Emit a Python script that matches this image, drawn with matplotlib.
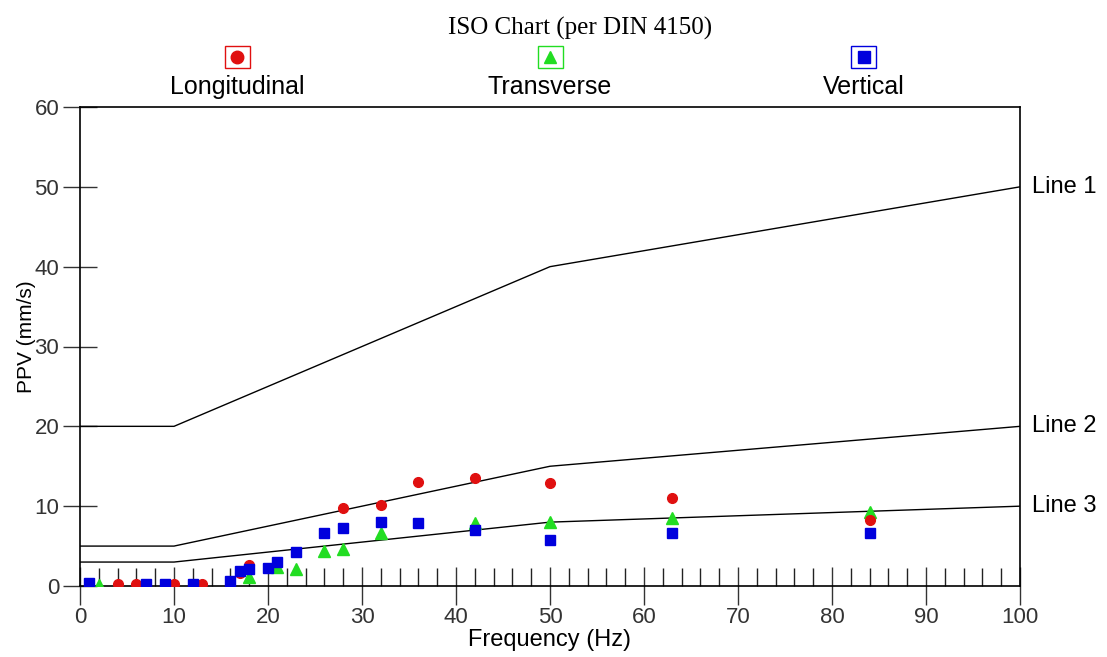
import matplotlib
matplotlib.use("Agg")
from matplotlib import pyplot as plt
from matplotlib.lines import Line2D
from matplotlib.patches import Rectangle
from matplotlib.ticker import MultipleLocator

plt.rcParams['font.family'] = ['Liberation Sans', 'DejaVu Sans']

# DIN 4150 guide lines (frequency Hz, PPV mm/s)
line_freq = [0, 10, 50, 100]
line1 = [20, 20, 40, 50]
line2 = [5, 5, 15, 20]
line3 = [3, 3, 8, 10]
line_names = ["Line 1", "Line 2", "Line 3"]

# measured points
long_f = [4, 6, 10, 13, 17, 18, 28, 32, 36, 42, 50, 63, 84]
long_v = [0.2, 0.2, 0.2, 0.2, 1.6, 2.6, 9.8, 10.2, 13.0, 13.5, 12.9, 11.0, 8.3]
trans_f = [2, 18, 21, 23, 26, 28, 32, 42, 50, 63, 84]
trans_v = [0.1, 1.1, 2.4, 2.1, 4.4, 4.6, 6.6, 7.9, 8.0, 8.5, 9.3]
vert_f = [1, 7, 9, 12, 16, 17, 18, 20, 21, 23, 26, 28, 32, 36, 42, 50, 63, 84]
vert_v = [0.4, 0.3, 0.3, 0.3, 0.6, 1.9, 2.1, 2.2, 3.0, 4.2, 6.7, 7.3, 8.0, 7.9, 7.0, 5.8, 6.6, 6.6]

W, H = 1107, 657
fig = plt.figure(figsize=(W / 100, H / 100), dpi=100)
ax = fig.add_axes([80 / W, 1 - 586 / H, 940 / W, 479 / H])

def fx(px):
    return px / W

def fy(py):
    return 1 - py / H

for vals in [line1, line2, line3]:
    ax.plot(line_freq, vals, color="black", lw=1.0, zorder=2)

ax.plot(trans_f, trans_v, ls="none", marker="^", ms=8, color="#22dd22", zorder=3)
ax.plot(long_f, long_v, ls="none", marker="o", ms=7, color="#e01010", zorder=4)
ax.plot(vert_f, vert_v, ls="none", marker="s", ms=7.5, color="#0000dd", zorder=5)

ax.set_xlim(0, 100)
ax.set_ylim(0, 60)
ax.xaxis.set_major_locator(MultipleLocator(10))
ax.xaxis.set_minor_locator(MultipleLocator(2))
ax.yaxis.set_major_locator(MultipleLocator(10))
ax.tick_params(axis="x", which="major", direction="inout", length=28, width=1, labelsize=16, pad=1, colors="#333333")
ax.tick_params(axis="x", which="minor", direction="in", length=13, width=1, color="#222222")
ax.tick_params(axis="y", which="major", direction="inout", length=24, width=1, labelsize=16, pad=3, colors="#333333")
for s in ax.spines.values():
    s.set_linewidth(1.2)
    s.set_color("black")

ax.set_xlabel("Frequency (Hz)", fontsize=17, labelpad=1)
ax.set_ylabel("PPV (mm/s)", fontsize=15)
ax.yaxis.set_label_coords(-0.047, 0.52)

for name, vals in zip(line_names, [line1, line2, line3]):
    ax.text(101.3, vals[-1], name, fontsize=17, va="center", ha="left", clip_on=False)

fig.text(fx(580), fy(28), "ISO Chart (per DIN 4150)", family="Liberation Serif",
         fontsize=18, ha="center", va="center")

legend_items = [
    ("Longitudinal", "o", "#e01010", 237),
    ("Transverse", "^", "#22dd22", 550),
    ("Vertical", "s", "#0000dd", 864),
]
bw, bh = 25, 22
for label, mk, col, cx in legend_items:
    fig.add_artist(Rectangle((fx(cx - bw / 2), fy(57 + bh / 2)), bw / W, bh / H,
                             transform=fig.transFigure, fill=False, edgecolor=col, lw=1))
    fig.add_artist(Line2D([fx(cx)], [fy(57)], marker=mk, ms=9, color=col, ls="none",
                          transform=fig.transFigure))
    fig.text(fx(cx), fy(87), label, fontsize=18, ha="center", va="center")

fig.savefig("out.png", dpi=100)
